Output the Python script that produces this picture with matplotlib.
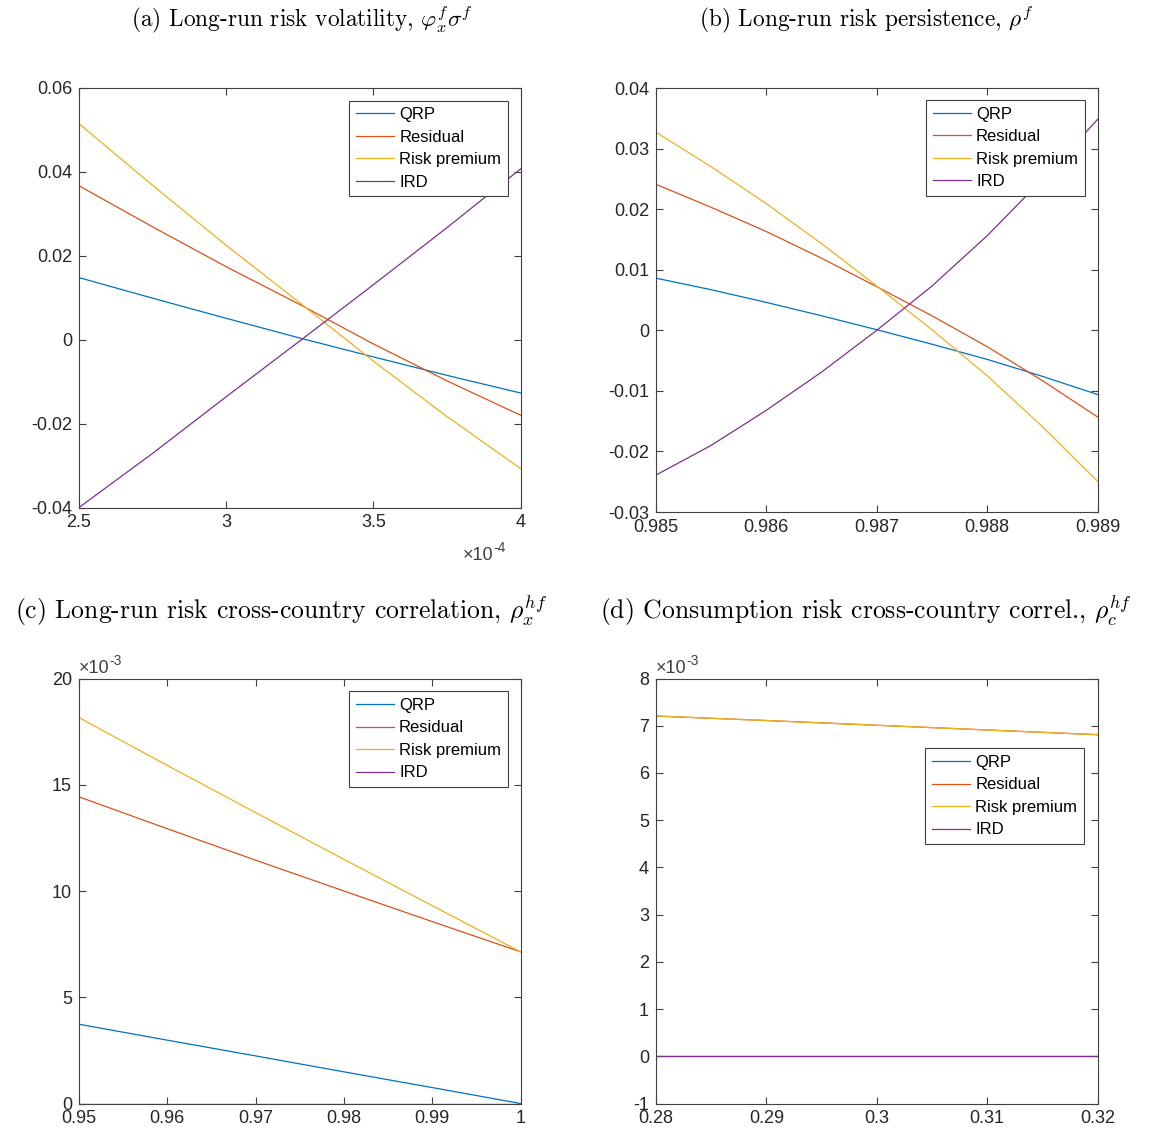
import numpy as np
import matplotlib.pyplot as plt
from matplotlib.ticker import FuncFormatter

plt.rcParams['font.family'] = 'Liberation Sans'
plt.rcParams['axes.unicode_minus'] = False
plt.rcParams['mathtext.fontset'] = 'cm'

labels = ["QRP", "Residual", "Risk premium", "IRD"]
colors = ['#0072BD', '#D95319', '#EDB120', '#7E2F8E']

# (a) long-run risk volatility
a_x = [2.5e-4, 2.75e-4, 3.0e-4, 3.25e-4, 3.5e-4, 3.75e-4, 4.0e-4]
a_qrp = [0.0148, 0.0099, 0.0051, 0.0004, -0.0041, -0.0085, -0.0127]
a_res = [0.0367, 0.0269, 0.0174, 0.0084, -0.0010, -0.0098, -0.0180]
a_rp = [0.0515, 0.0368, 0.0225, 0.0088, -0.0051, -0.0183, -0.0307]
a_ird = [-0.0400, -0.0271, -0.0136, -0.0003, 0.0131, 0.0267, 0.0407]

# (b) long-run risk persistence
b_x = [0.985, 0.9855, 0.986, 0.9865, 0.987, 0.9875, 0.988, 0.9885, 0.989]
b_qrp = [0.0086, 0.0067, 0.0046, 0.0024, 0.0001, -0.0023, -0.0048, -0.0076, -0.0106]
b_res = [0.0241, 0.0203, 0.0163, 0.0119, 0.0072, 0.0024, -0.0027, -0.0083, -0.0143]
b_rp = [0.0327, 0.0270, 0.0209, 0.0143, 0.0073, 0.0001, -0.0075, -0.0159, -0.0249]
b_ird = [-0.0239, -0.0190, -0.0132, -0.0069, 0.0000, 0.0073, 0.0156, 0.0249, 0.0348]

# (c) long-run risk cross-country correlation
c_x = [0.95, 0.96, 0.97, 0.98, 0.99, 1.0]
c_qrp = [0.00373, 0.00298, 0.00224, 0.00149, 0.00075, 0.0]
c_res = [0.01443, 0.01293, 0.01145, 0.01000, 0.00856, 0.00714]
c_rp = [0.01816, 0.01591, 0.01369, 0.01149, 0.00931, 0.00714]
c_ird = [0.0, 0.0, 0.0, 0.0, 0.0, 0.0]

# (d) consumption risk cross-country correlation
d_x = [0.28, 0.29, 0.30, 0.31, 0.32]
d_qrp = [0.0, 0.0, 0.0, 0.0, 0.0]
d_res = [0.007205, 0.00711, 0.00701, 0.00691, 0.00681]
d_rp = [0.007205, 0.00711, 0.00701, 0.00691, 0.00681]
d_ird = [0.0, 0.0, 0.0, 0.0, 0.0]

W, H = 1157, 1136
fig = plt.figure(figsize=(W / 100, H / 100), dpi=100)


def px_axes(left, top, right, bottom):
    return fig.add_axes([left / W, 1 - bottom / H, (right - left) / W, (bottom - top) / H])


def fmt(scale):
    return FuncFormatter(lambda v, p: '%g' % round(v * scale, 6))


def offset_text(ax, x, y, exp, ha):
    t = ax.text(x, y, '\u00d710', transform=ax.transAxes, fontsize=13,
                color='#404040', ha=ha, va='baseline')
    ax.annotate(exp, xy=(1, 0.55), xycoords=t, fontsize=10, color='#404040',
                va='bottom', ha='left')


def panel(ax, x, series, xlim, ylim, xticks, yticks, xs, ys, leg_anchor):
    for y, lab, c in zip(series, labels, colors):
        ax.plot(x, y, color=c, lw=0.9, label=lab)
    ax.set_xlim(xlim)
    ax.set_ylim(ylim)
    ax.set_xticks(xticks)
    ax.set_yticks(yticks)
    ax.xaxis.set_major_formatter(fmt(xs))
    ax.yaxis.set_major_formatter(fmt(ys))
    ax.tick_params(direction='in', top=True, right=True, length=5, width=0.8,
                   labelsize=13, colors='#404040', labelcolor='#262626', pad=5)
    for s in ax.spines.values():
        s.set_color('#404040')
        s.set_linewidth(0.8)
    leg = ax.legend(loc='upper right', bbox_to_anchor=leg_anchor, borderaxespad=0,
                    fontsize=12, fancybox=False, framealpha=1, edgecolor='#404040',
                    handlelength=2.3, handletextpad=0.3, labelspacing=0.45,
                    borderpad=0.4)
    leg.get_frame().set_linewidth(0.8)


ax_a = px_axes(79, 88, 520.5, 507.5)
panel(ax_a, a_x, [a_qrp, a_res, a_rp, a_ird], (2.5e-4, 4e-4), (-0.04, 0.06),
      [2.5e-4, 3e-4, 3.5e-4, 4e-4], [-0.04, -0.02, 0, 0.02, 0.04, 0.06],
      1e4, 1, (0.972, 0.970))
offset_text(ax_a, 0.938, -0.125, '-4', 'right')

ax_b = px_axes(656, 88, 1097.5, 512)
panel(ax_b, b_x, [b_qrp, b_res, b_rp, b_ird], (0.985, 0.989), (-0.03, 0.04),
      [0.985, 0.986, 0.987, 0.988, 0.989], [-0.03, -0.02, -0.01, 0, 0.01, 0.02, 0.03, 0.04],
      1, 1, (0.971, 0.972))

ax_c = px_axes(79, 678.5, 520.5, 1103.5)
panel(ax_c, c_x, [c_qrp, c_res, c_rp, c_ird], (0.95, 1.0), (0, 0.02),
      [0.95, 0.96, 0.97, 0.98, 0.99, 1.0], [0, 0.005, 0.01, 0.015, 0.02],
      1, 1e3, (0.971, 0.970))
offset_text(ax_c, 0.0, 1.012, '-3', 'left')

ax_d = px_axes(656, 678.5, 1097.5, 1103.5)
panel(ax_d, d_x, [d_qrp, d_res, d_rp, d_ird], (0.28, 0.32), (-0.001, 0.008),
      [0.28, 0.29, 0.30, 0.31, 0.32], [i / 1000 for i in range(-1, 9)],
      1, 1e3, (0.969, 0.836))
offset_text(ax_d, 0.0, 1.012, '-3', 'left')

top_kw = dict(fontfamily='cmr10', fontsize=16.8, ha='center', va='center')
bot_kw = dict(fontfamily='cmr10', fontsize=18.5, ha='center', va='center')
fig.text(302 / W, 1 - 20 / H, r'(a) Long-run risk volatility, $\varphi^f_x\sigma^f$', **top_kw)
fig.text(866 / W, 1 - 20 / H, r'(b) Long-run risk persistence, $\rho^f$', **top_kw)
fig.text(281 / W, 1 - 611 / H, r'(c) Long-run risk cross-country correlation, $\rho^{hf}_x$', **bot_kw)
fig.text(866 / W, 1 - 611 / H, r'(d) Consumption risk cross-country correl., $\rho^{hf}_c$', **bot_kw)

fig.savefig('out.png', dpi=100)
